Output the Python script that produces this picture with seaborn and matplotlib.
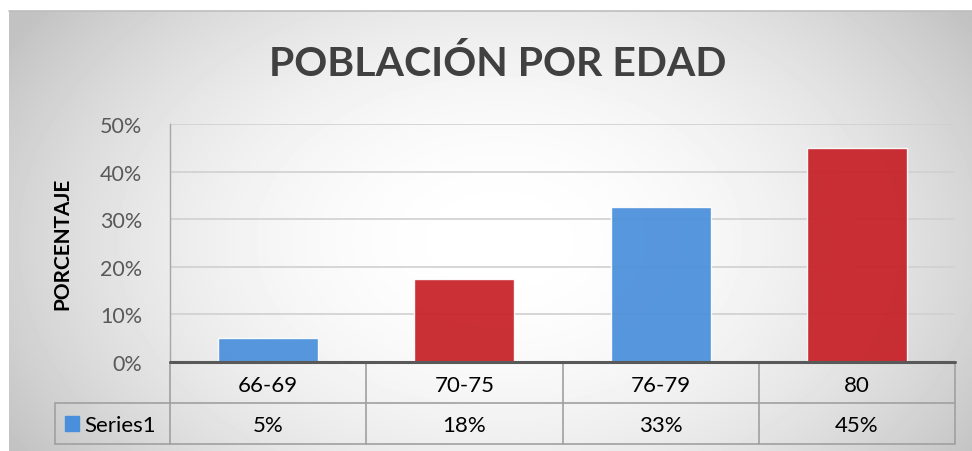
import numpy as np
import pandas as pd
import matplotlib.pyplot as plt
import matplotlib.patches as mpatches
import matplotlib.transforms as mtransforms
import seaborn as sns

# Data
edades = ["66-69", "70-75", "76-79", "80"]
porcentaje = [0.05, 0.175, 0.325, 0.45]
etiquetas = ["5%", "18%", "33%", "45%"]
colores = ["#4a8fdb", "#c62026", "#4a8fdb", "#c62026"]
serie = "Series1"

df = pd.DataFrame({"edad": edades, "pct": porcentaje})

sns.set_style("white")
plt.rcParams["font.family"] = ["Lato", "DejaVu Sans"]

fig = plt.figure(figsize=(9.72, 4.52), dpi=100)

# Background of the chart area (radial gradient, white centre to gray edges)
bg = fig.add_axes([9 / 972, 0, 1 - 9 / 972, 1 - 12 / 452], zorder=-10)
yy, xx = np.mgrid[0:440, 0:963]
r2 = ((xx - 490) / 620.0) ** 2 + ((yy - 230) / 420.0) ** 2
shade = np.clip(1.0 - 0.28 * r2, 0.76, 1.0)
bg.imshow(shade, cmap="gray", vmin=0, vmax=1, aspect="auto", interpolation="bilinear")
bg.axis("off")
fig.add_artist(plt.Line2D([9 / 972, 1], [1 - 12 / 452] * 2, color="#bdbdbd", lw=1.2))

ax = fig.add_axes([170 / 972, 89 / 452, 785 / 972, 238 / 452])
ax.patch.set_alpha(0)
sns.barplot(data=df, x="edad", y="pct", hue="edad", palette=colores, legend=False,
            width=0.51, saturation=1, alpha=0.93, ax=ax, zorder=2)
for p in ax.patches:
    p.set_edgecolor((1, 1, 1, 0.35))
    p.set_linewidth(1)

ax.set_ylim(0, 0.5)
ax.set_xlim(-0.5, 3.5)
ax.set_yticks([0, 0.1, 0.2, 0.3, 0.4, 0.5])
ax.set_yticklabels([f"{int(v * 100)}%" for v in ax.get_yticks()], color="#595959", fontsize=15.5)
ax.tick_params(axis="y", length=0, pad=20)
ax.set_xticks([])
ax.set_xlabel("")
ax.set_ylabel("PORCENTAJE", fontsize=15, fontweight="bold", color="black", labelpad=20)
for y in [0.1, 0.2, 0.3, 0.4, 0.5]:
    ax.axhline(y, color="#d0d0d0", lw=1.2, zorder=1)
for s in ["top", "right", "bottom"]:
    ax.spines[s].set_visible(False)
ax.spines["left"].set_color("#a6a6a6")
ax.spines["left"].set_linewidth(1)
ax.axhline(0, color="#595959", lw=2.2, zorder=3, clip_on=False)

fig.text(0.512, 1 - 64 / 452, "POBLACIÓN POR EDAD", fontsize=29.5, fontweight="bold",
         color="#404040", ha="center", va="center")

# Data table below the axis
trans = mtransforms.blended_transform_factory(ax.transData, ax.transAxes)
r1, r2b = -0.172, -0.345
lx = -0.5 - 115 / 785 * 4
line_kw = dict(color="#a0a0a0", lw=1.2, clip_on=False, transform=trans)
ax.plot([-0.5, 3.5], [r1, r1], **line_kw)
ax.plot([lx, 3.5], [r2b, r2b], **line_kw)
ax.plot([lx, lx], [r1, r2b], **line_kw)
ax.plot([lx, -0.5], [r1, r1], **line_kw)
for xv in [-0.5, 0.5, 1.5, 2.5, 3.5]:
    ax.plot([xv, xv], [0, r2b], **line_kw)
for i, (e, t) in enumerate(zip(edades, etiquetas)):
    ax.text(i, r1 / 2 - 0.01, e, transform=trans, ha="center", va="center", fontsize=16, color="black")
    ax.text(i, (r1 + r2b) / 2 - 0.008, t, transform=trans, ha="center", va="center", fontsize=16, color="black")
ax.add_patch(mpatches.Rectangle((lx + 0.05, (r1 + r2b) / 2 - 0.032), 0.072, 0.064, transform=trans,
                                color=colores[0], clip_on=False))
ax.text(lx + 0.15, (r1 + r2b) / 2 - 0.008, serie, transform=trans, ha="left", va="center", fontsize=16, color="black")

plt.savefig("out.png", dpi=100)
